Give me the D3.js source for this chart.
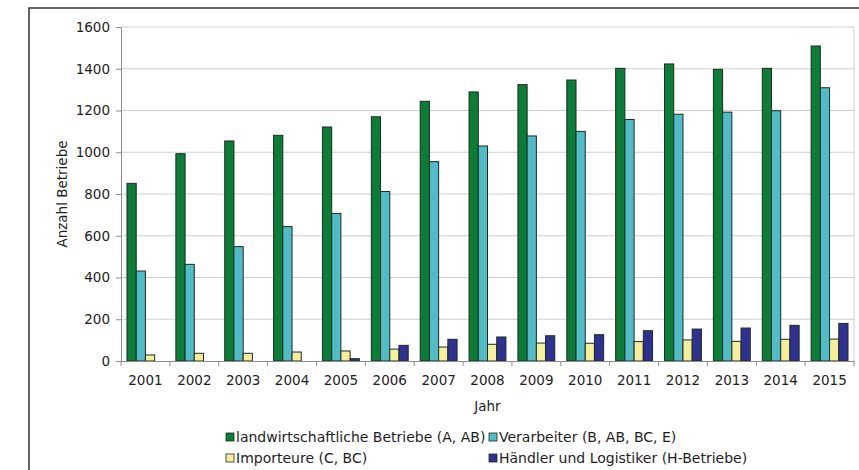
<!DOCTYPE html>
<html>
<head>
<meta charset="utf-8">
<script src="https://cdn.jsdelivr.net/npm/d3@7"></script>
<style>
  html, body { margin: 0; padding: 0; background: #fff; }
  svg { display: block; font-family: "DejaVu Sans", Verdana, sans-serif; }
</style>
</head>
<body>
<div id="chart"></div>
<script>
const years = ['2001','2002','2003','2004','2005','2006','2007','2008','2009','2010','2011','2012','2013','2014','2015'];
const landwirtschaft = [851, 993, 1054, 1081, 1121, 1170, 1244, 1289, 1324, 1346, 1402, 1423, 1397, 1402, 1509];
const verarbeiter = [431, 463, 548, 644, 707, 812, 955, 1030, 1078, 1100, 1157, 1182, 1192, 1199, 1309];
const importeure = [29, 37, 37, 43, 48, 57, 67, 80, 86, 85, 93, 101, 94, 104, 105];
const haendler = [0, 0, 0, 0, 11, 75, 104, 115, 121, 126, 145, 153, 158, 171, 180];
const seriesNames = [
  'landwirtschaftliche Betriebe (A, AB)',
  'Verarbeiter (B, AB, BC, E)',
  'Importeure (C, BC)',
  'Händler und Logistiker (H-Betriebe)'
];
const yTicks = [0, 200, 400, 600, 800, 1000, 1200, 1400, 1600];

const width = 859;
const height = 470;
const colors = ['#0b7d37', '#4fbcc7', '#f7ee9c', '#2e3192'];
const seriesValues = [landwirtschaft, verarbeiter, importeure, haendler];

const plot = { left: 121, right: 854, top: 27, bottom: 361 };

const svg = d3.select('#chart')
  .append('svg')
  .attr('width', width)
  .attr('height', height);

// outer frame
svg.append('path')
  .attr('d', `M29,${height} L29,8 L${width},8`)
  .attr('fill', 'none')
  .attr('stroke', '#333')
  .attr('stroke-width', 1.5);

const xScale = d3.scaleBand()
  .domain(years)
  .range([plot.left, plot.right]);

const xInner = d3.scaleBand()
  .domain(d3.range(4))
  .range([6, xScale.bandwidth() - 6]);

const yScale = d3.scaleLinear()
  .domain([0, 1600])
  .range([plot.bottom, plot.top]);

// gridlines
svg.append('g')
  .selectAll('line')
  .data(yTicks.filter(d => d > 0))
  .join('line')
  .attr('x1', plot.left)
  .attr('x2', plot.right)
  .attr('y1', d => yScale(d))
  .attr('y2', d => yScale(d))
  .attr('stroke', '#cfcfcf')
  .attr('stroke-width', 1);

// right border of plot area
svg.append('line')
  .attr('x1', plot.right).attr('x2', plot.right)
  .attr('y1', plot.top).attr('y2', plot.bottom)
  .attr('stroke', '#cfcfcf');

// bars
const groups = svg.append('g')
  .selectAll('g')
  .data(years)
  .join('g')
  .attr('transform', d => `translate(${xScale(d)},0)`);

groups.selectAll('rect')
  .data((d, i) => seriesValues.map((s, k) => ({ k, v: s[i] })))
  .join('rect')
  .attr('x', d => xInner(d.k))
  .attr('width', xInner.bandwidth())
  .attr('y', d => yScale(d.v))
  .attr('height', d => yScale(0) - yScale(d.v))
  .attr('fill', d => colors[d.k])
  .attr('stroke', d => d.v > 0 ? '#1d2b24' : 'none')
  .attr('stroke-width', 1);

// y axis
const yAxis = d3.axisLeft(yScale).tickValues(yTicks).tickFormat(d3.format('d')).tickSize(5).tickPadding(6);
const gy = svg.append('g')
  .attr('transform', `translate(${plot.left},0)`)
  .call(yAxis);
gy.select('.domain').attr('stroke', '#8c8c8c');
gy.selectAll('.tick line').attr('stroke', '#8c8c8c');
gy.selectAll('.tick text')
  .attr('fill', '#1e1e1e')
  .style('font-size', '13.5px')
  .style('font-family', '"DejaVu Sans", Verdana, sans-serif');

// x axis
const xAxis = d3.axisBottom(xScale).tickSize(0).tickPadding(14);
const gx = svg.append('g')
  .attr('transform', `translate(0,${plot.bottom})`)
  .call(xAxis);
gx.select('.domain').attr('stroke', '#8c8c8c');
gx.selectAll('.tick text')
  .attr('fill', '#1e1e1e')
  .style('font-size', '13.5px')
  .style('font-family', '"DejaVu Sans", Verdana, sans-serif');
gx.append('g')
  .selectAll('line')
  .data(years.concat(['end']))
  .join('line')
  .attr('x1', (d, i) => i < years.length ? xScale(d) : plot.right)
  .attr('x2', (d, i) => i < years.length ? xScale(d) : plot.right)
  .attr('y1', 0)
  .attr('y2', 5)
  .attr('stroke', '#8c8c8c');

// axis titles
svg.append('text')
  .attr('transform', `translate(67,${(plot.top + plot.bottom) / 2}) rotate(-90)`)
  .attr('text-anchor', 'middle')
  .attr('fill', '#1e1e1e')
  .style('font-size', '13.5px')
  .text('Anzahl Betriebe');

svg.append('text')
  .attr('x', (plot.left + plot.right) / 2)
  .attr('y', 411)
  .attr('text-anchor', 'middle')
  .attr('fill', '#1e1e1e')
  .style('font-size', '13.5px')
  .text('Jahr');

// legend
const legendPos = [[226, 437], [489, 437], [226, 458], [489, 458]];
const legend = svg.append('g')
  .selectAll('g')
  .data(seriesNames)
  .join('g')
  .attr('transform', (d, i) => `translate(${legendPos[i][0]},${legendPos[i][1]})`);

legend.append('rect')
  .attr('x', 0)
  .attr('y', -4)
  .attr('width', 8)
  .attr('height', 8)
  .attr('fill', (d, i) => colors[i])
  .attr('stroke', '#1d2b24')
  .attr('stroke-width', 0.8);

legend.append('text')
  .attr('x', 10)
  .attr('y', 5)
  .attr('fill', '#1e1e1e')
  .style('font-size', '14px')
  .text(d => d);
</script>
</body>
</html>
